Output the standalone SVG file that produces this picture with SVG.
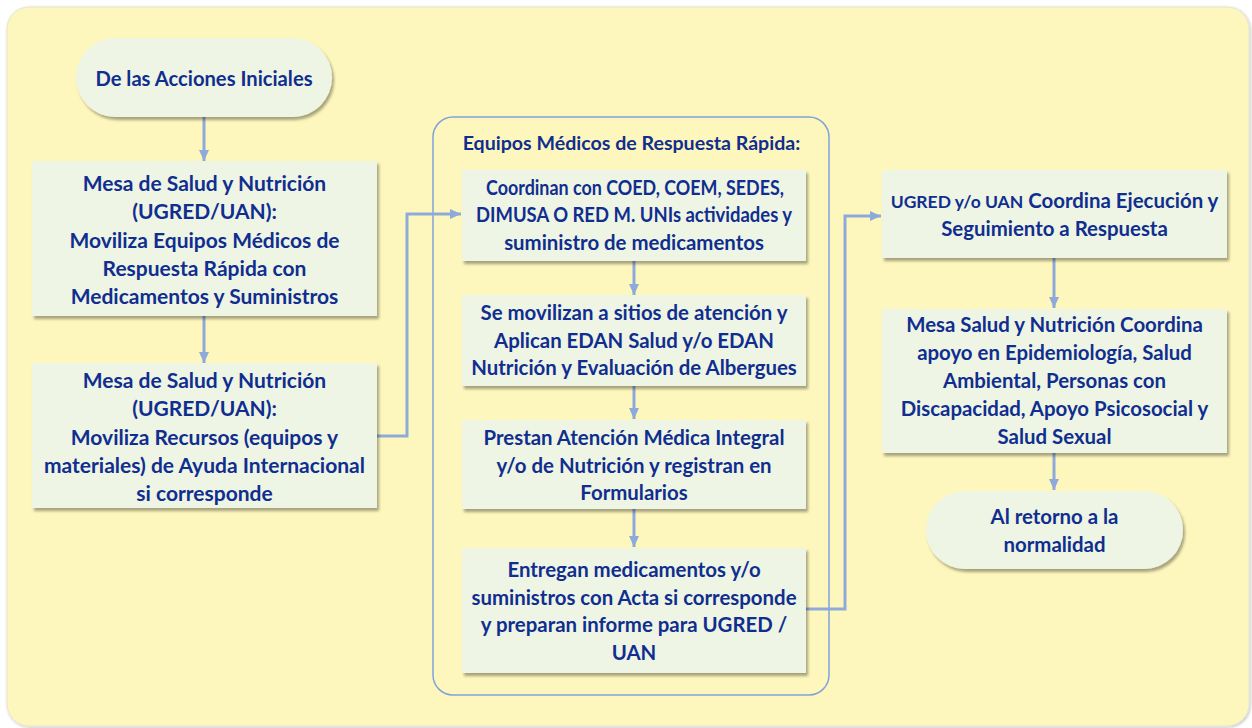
<svg xmlns="http://www.w3.org/2000/svg" width="1252" height="728" viewBox="0 0 1252 728">
<defs>
<filter id="sh" x="-5%" y="-5%" width="115%" height="125%">
<feDropShadow dx="2" dy="3" stdDeviation="1.5" flood-color="#000" flood-opacity="0.35"/>
</filter>
<filter id="bgsh" x="-2%" y="-2%" width="104%" height="104%">
<feDropShadow dx="1" dy="1" stdDeviation="1.5" flood-color="#000" flood-opacity="0.25"/>
</filter>
<marker id="ah" markerUnits="userSpaceOnUse" markerWidth="12" markerHeight="12" viewBox="0 0 12 12" refX="11" refY="6" orient="auto">
<path d="M0,1 L11,6 L0,11 Z" fill="#8EAADB"/>
</marker>
<style>
.box{fill:#EEF5E4;filter:url(#sh)}
.t{font-family:Lato,"Open Sans","Liberation Sans",sans-serif;font-weight:bold;font-size:21px;fill:#102E8F;text-anchor:middle}
.s{font-size:20.4px}
.c{fill:none;stroke:#8EAADB;stroke-width:3;marker-end:url(#ah)}
</style>
</defs>
<rect width="1252" height="728" fill="#FFFFFF"/>
<rect x="7" y="7" width="1242" height="719" rx="22" fill="#FEF7BD" stroke="#E6E4D0" stroke-width="1" filter="url(#bgsh)"/>

<g id="container">
<rect x="433" y="117" width="396" height="578" rx="20" fill="none" stroke="#7FA3DA" stroke-width="1.5"/>
<text class="t" x="631.5" y="150" style="font-size:19.6px">Equipos Médicos de Respuesta Rápida:</text>
</g>

<g id="connectors">
<line class="c" x1="204" y1="117" x2="204" y2="161"/>
<line class="c" x1="204" y1="316" x2="204" y2="363"/>
<polyline class="c" points="377,436 407,436 407,214 461,214"/>
<line class="c" x1="634" y1="261" x2="634" y2="295"/>
<line class="c" x1="634" y1="386" x2="634" y2="419"/>
<line class="c" x1="634" y1="509" x2="634" y2="547"/>
<polyline class="c" points="806,609 845,609 845,216 881,216"/>
<line class="c" x1="1054" y1="258" x2="1054" y2="308"/>
<line class="c" x1="1054" y1="453" x2="1054" y2="490"/>
</g>

<g id="n1">
<rect class="box" x="76" y="38" width="256" height="79" rx="39.5"/>
<text class="t" x="204" y="86" style="font-size:20.2px">De las Acciones Iniciales</text>
</g>

<g id="nA">
<rect class="box" x="32" y="161" width="345" height="155"/>
<text class="t" x="204.5" y="191">Mesa de Salud y Nutrición</text>
<text class="t" x="204.5" y="219">(UGRED/UAN):</text>
<text class="t" x="204.5" y="248">Moviliza Equipos Médicos de</text>
<text class="t" x="204.5" y="276">Respuesta Rápida con</text>
<text class="t" x="204.5" y="304">Medicamentos y Suministros</text>
</g>

<g id="nB">
<rect class="box" x="32" y="363" width="345" height="145"/>
<text class="t" x="204.5" y="388">Mesa de Salud y Nutrición</text>
<text class="t" x="204.5" y="416">(UGRED/UAN):</text>
<text class="t" x="204.5" y="445">Moviliza Recursos (equipos y</text>
<text class="t" x="204.5" y="473">materiales) de Ayuda Internacional</text>
<text class="t" x="204.5" y="501">si corresponde</text>
</g>

<g id="nC1">
<rect class="box" x="462" y="170" width="344" height="91"/>
<text class="t s" x="635" y="195" textLength="298" lengthAdjust="spacingAndGlyphs">Coordinan con COED, COEM, SEDES,</text>
<text class="t s" x="634" y="222" textLength="316" lengthAdjust="spacingAndGlyphs">DIMUSA O RED M. UNIs actividades y</text>
<text class="t s" x="634" y="250">suministro de medicamentos</text>
</g>

<g id="nC2">
<rect class="box" x="462" y="295" width="344" height="91"/>
<text class="t s" x="634" y="320">Se movilizan a sitios de atención y</text>
<text class="t s" x="634" y="348">Aplican EDAN Salud y/o EDAN</text>
<text class="t s" x="634" y="375">Nutrición y Evaluación de Albergues</text>
</g>

<g id="nC3">
<rect class="box" x="462" y="420" width="344" height="89"/>
<text class="t s" x="634" y="445">Prestan Atención Médica Integral</text>
<text class="t s" x="634" y="473">y/o de Nutrición y registran en</text>
<text class="t s" x="634" y="500">Formularios</text>
</g>

<g id="nC4">
<rect class="box" x="462" y="548" width="344" height="125"/>
<text class="t s" x="634" y="577">Entregan medicamentos y/o</text>
<text class="t s" x="634" y="605">suministros con Acta si corresponde</text>
<text class="t s" x="634" y="632">y preparan informe para UGRED /</text>
<text class="t s" x="634" y="660">UAN</text>
</g>

<g id="nD1">
<rect class="box" x="882" y="170" width="345" height="88"/>
<text class="t s" x="1054.5" y="208"><tspan style="font-size:17.5px">UGRED y/o UAN</tspan> Coordina Ejecución y</text>
<text class="t s" x="1054.5" y="236">Seguimiento a Respuesta</text>
</g>

<g id="nD2">
<rect class="box" x="882" y="309" width="345" height="144"/>
<text class="t s" x="1054.5" y="332">Mesa Salud y Nutrición Coordina</text>
<text class="t s" x="1054.5" y="360">apoyo en Epidemiología, Salud</text>
<text class="t s" x="1054.5" y="388">Ambiental, Personas con</text>
<text class="t s" x="1054.5" y="416">Discapacidad, Apoyo Psicosocial y</text>
<text class="t s" x="1054.5" y="444">Salud Sexual</text>
</g>

<g id="nD3">
<rect class="box" x="926" y="491" width="257" height="78" rx="39"/>
<text class="t s" x="1054.5" y="524">Al retorno a la</text>
<text class="t s" x="1054.5" y="552">normalidad</text>
</g>
</svg>
